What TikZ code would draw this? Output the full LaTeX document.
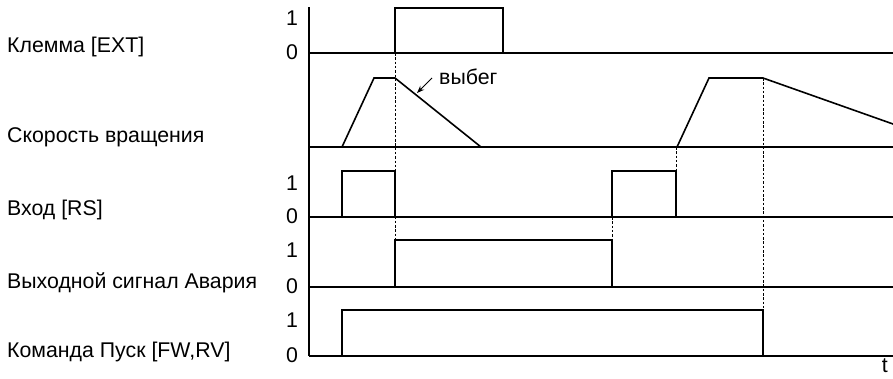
\documentclass[tikz,border=0pt]{standalone}
\usepackage{fontspec}
\setmainfont{Liberation Sans}
\usetikzlibrary{arrows.meta}

\begin{document}
\begin{tikzpicture}[x=1pt,y=-1pt,>=Stealth,
  sig/.style={line width=1.6pt},
  guide/.style={line width=0.6pt, dash pattern=on 2.5pt off 1.8pt},
  txt/.style={font=\fontsize{21.3}{25}\selectfont, inner sep=0pt},
  lbl/.style={txt, anchor=west}]
  \useasboundingbox (0,0) rectangle (893,378);

  % axis and zero lines
  \draw[sig] (309,7) -- (309,356);
  \foreach \y in {53,147,217,287,356}
    \draw[sig] (309,\y) -- (893,\y);

  % guide lines
  \draw[guide] (395,53) -- (395,240);
  \draw[guide] (612,217) -- (612,240);
  \draw[guide] (676,147) -- (676,171);
  \draw[guide] (763,78) -- (763,310);

  % signals
  \draw[sig] (395,53) -- (395,8) -- (503,8) -- (503,53);
  \draw[sig] (342,147) -- (374,78) -- (395,78) -- (481,147);
  \draw[sig] (677,147) -- (709,78) -- (763,78) -- (893,124);
  \draw[sig] (342,217) -- (342,171) -- (395,171) -- (395,217);
  \draw[sig] (612,217) -- (612,171) -- (676,171) -- (676,217);
  \draw[sig] (395,287) -- (395,240) -- (612,240) -- (612,287);
  \draw[sig] (342,356) -- (342,310) -- (763,310) -- (763,356);

  % levels
  \foreach \n/\hi/\lo in {ext/18/52, rs/183/216, alarm/250/286, run/320/355} {
    \node[txt] (one-\n) at (292,\hi) {1};
    \node[txt] (zero-\n) at (292,\lo) {0};
  }

  % signal names
  \node[lbl] (ext)   at (7,47)  {Клемма [EXT]};
  \node[lbl] (speed) at (7,137) {Скорость вращения};
  \node[lbl] (rs)    at (7,210) {Вход [RS]};
  \node[lbl] (alarm) at (7,283) {Выходной сигнал Авария};
  \node[lbl] (run)   at (7,352) {Команда Пуск [FW,RV]};

  \node[lbl] (coast) at (439,77) {выбег};
  \coordinate (coast-tip) at (417,93);
  \draw[->, line width=1pt] (coast.west) ++(-7,1) -- (coast-tip);

  \node[txt, anchor=south east] (time) at (888,373) {t};
\end{tikzpicture}
\end{document}
